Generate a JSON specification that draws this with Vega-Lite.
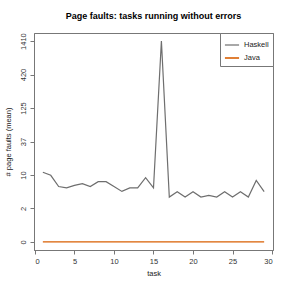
{
  "$schema": "https://vega.github.io/schema/vega-lite/v6.json",
  "autosize": "none",
  "width": 239,
  "height": 217,
  "padding": {"left": 34, "top": 33, "right": 18, "bottom": 41},
  "background": "white",
  "title": {"text": "Page faults: tasks running without errors", "font": "Liberation Sans", "fontSize": 9, "fontWeight": "bold", "color": "#000", "anchor": "middle", "offset": 12},
  "config": {
    "view": {"stroke": "#777", "strokeWidth": 1},
    "axis": {"labelFont": "Liberation Sans", "titleFont": "Liberation Sans", "labelFontSize": 7.5, "titleFontSize": 7.5, "titleFontWeight": "normal", "labelColor": "#333", "titleColor": "#222222", "domainColor": "#777", "tickColor": "#777", "grid": false, "tickSize": 4}
  },
  "data": {"values": [
    {"task": 1, "lang": "Haskell", "v": 11.4},
    {"task": 2, "lang": "Haskell", "v": 10.1},
    {"task": 3, "lang": "Haskell", "v": 6.4},
    {"task": 4, "lang": "Haskell", "v": 6.05},
    {"task": 5, "lang": "Haskell", "v": 6.7},
    {"task": 6, "lang": "Haskell", "v": 7.2},
    {"task": 7, "lang": "Haskell", "v": 6.4},
    {"task": 8, "lang": "Haskell", "v": 7.8},
    {"task": 9, "lang": "Haskell", "v": 7.8},
    {"task": 10, "lang": "Haskell", "v": 6.4},
    {"task": 11, "lang": "Haskell", "v": 5.2},
    {"task": 12, "lang": "Haskell", "v": 6.05},
    {"task": 13, "lang": "Haskell", "v": 6.05},
    {"task": 14, "lang": "Haskell", "v": 9.2},
    {"task": 15, "lang": "Haskell", "v": 6.05},
    {"task": 16, "lang": "Haskell", "v": 1410.8},
    {"task": 17, "lang": "Haskell", "v": 4.06},
    {"task": 18, "lang": "Haskell", "v": 5.15},
    {"task": 19, "lang": "Haskell", "v": 4.06},
    {"task": 20, "lang": "Haskell", "v": 5.15},
    {"task": 21, "lang": "Haskell", "v": 4.06},
    {"task": 22, "lang": "Haskell", "v": 4.37},
    {"task": 23, "lang": "Haskell", "v": 4.06},
    {"task": 24, "lang": "Haskell", "v": 5.15},
    {"task": 25, "lang": "Haskell", "v": 4.06},
    {"task": 26, "lang": "Haskell", "v": 5.15},
    {"task": 27, "lang": "Haskell", "v": 4.06},
    {"task": 28, "lang": "Haskell", "v": 8.2},
    {"task": 29, "lang": "Haskell", "v": 5.15},
    {"task": 1, "lang": "Java", "v": 0},
    {"task": 2, "lang": "Java", "v": 0},
    {"task": 3, "lang": "Java", "v": 0},
    {"task": 4, "lang": "Java", "v": 0},
    {"task": 5, "lang": "Java", "v": 0},
    {"task": 6, "lang": "Java", "v": 0},
    {"task": 7, "lang": "Java", "v": 0},
    {"task": 8, "lang": "Java", "v": 0},
    {"task": 9, "lang": "Java", "v": 0},
    {"task": 10, "lang": "Java", "v": 0},
    {"task": 11, "lang": "Java", "v": 0},
    {"task": 12, "lang": "Java", "v": 0},
    {"task": 13, "lang": "Java", "v": 0},
    {"task": 14, "lang": "Java", "v": 0},
    {"task": 15, "lang": "Java", "v": 0},
    {"task": 16, "lang": "Java", "v": 0},
    {"task": 17, "lang": "Java", "v": 0},
    {"task": 18, "lang": "Java", "v": 0},
    {"task": 19, "lang": "Java", "v": 0},
    {"task": 20, "lang": "Java", "v": 0},
    {"task": 21, "lang": "Java", "v": 0},
    {"task": 22, "lang": "Java", "v": 0},
    {"task": 23, "lang": "Java", "v": 0},
    {"task": 24, "lang": "Java", "v": 0},
    {"task": 25, "lang": "Java", "v": 0},
    {"task": 26, "lang": "Java", "v": 0},
    {"task": 27, "lang": "Java", "v": 0},
    {"task": 28, "lang": "Java", "v": 0},
    {"task": 29, "lang": "Java", "v": 0}
  ]},
  "mark": {"type": "line", "strokeWidth": 1.2},
  "encoding": {
    "x": {"field": "task", "type": "quantitative", "scale": {"domain": [-0.12, 30.12], "nice": false, "zero": false},
      "axis": {"values": [0, 5, 10, 15, 20, 25, 30], "title": "task", "titleColor": "#222222", "labelPadding": 3, "titlePadding": 5}},
    "y": {"field": "v", "type": "quantitative", "scale": {"type": "symlog", "constant": 1, "domain": [-0.336, 1885.2], "nice": false, "zero": false},
      "axis": {"values": [0, 2.349, 10.216, 36.562, 124.79, 420.27, 1409.8], "labelExpr": "format(datum.value, '.0f')", "labelAngle": -90, "labelAlign": "center", "labelBaseline": "bottom", "labelPadding": 3, "title": "# page faults (mean)", "titleColor": "#222222", "titlePadding": 7}},
    "color": {"field": "lang", "type": "nominal", "scale": {"domain": ["Haskell", "Java"], "range": ["#6e6e6e", "#d95f02"]},
      "legend": {"title": null, "orient": "top-right", "offset": 0, "strokeColor": "#777", "fillColor": "white", "padding": 4, "symbolType": "stroke", "symbolSize": 200, "symbolStrokeWidth": 1.5, "labelFont": "Liberation Sans", "labelFontSize": 7.5, "labelColor": "#222", "rowPadding": 1, "cornerRadius": 0}},
    "strokeWidth": {"field": "lang", "type": "nominal", "scale": {"domain": ["Haskell", "Java"], "range": [1.2, 1.6]}, "legend": null}
  }
}
